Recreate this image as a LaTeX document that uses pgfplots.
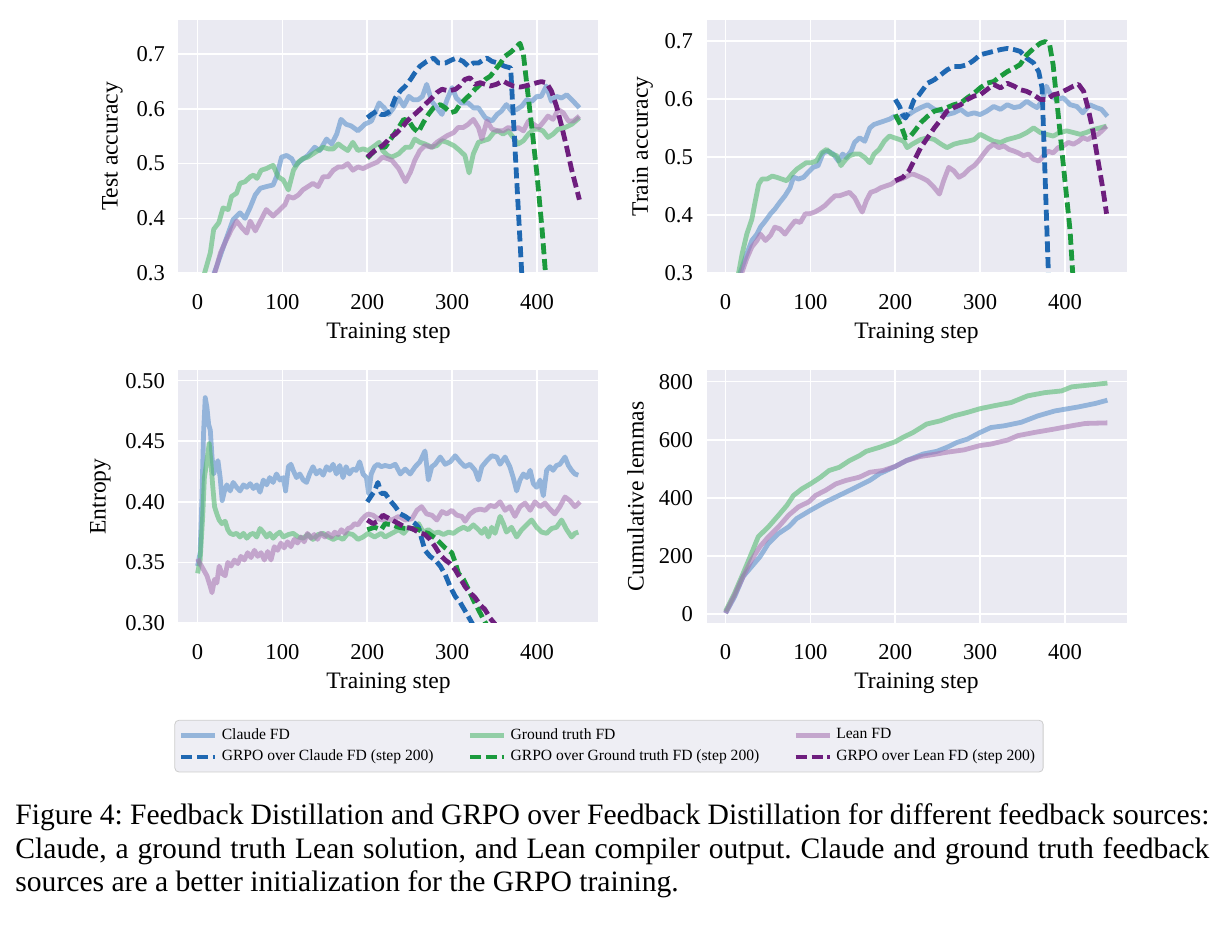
\documentclass[border=0pt]{standalone}
\usepackage{fontspec}
\setmainfont{Liberation Serif}
\usepackage{pgfplots}
\pgfplotsset{compat=1.18}

\definecolor{axbg}{HTML}{EAEAF2}
\definecolor{legbg}{HTML}{EEEEF4}
\definecolor{claudeL}{HTML}{5B90CA}
\definecolor{gtL}{HTML}{56BA72}
\definecolor{leanL}{HTML}{A977B4}
\definecolor{claudeD}{HTML}{1F68B2}
\definecolor{gtD}{HTML}{1B9A3D}
\definecolor{leanD}{HTML}{6E1E7E}

\pgfplotsset{
  panel/.style={
    scale only axis, width=210pt, height=126.5pt,
    axis background/.style={fill=axbg},
    axis line style={draw=none},
    grid=major, major grid style={white, line width=0.8pt},
    major tick length=0pt,
    xmin=-22.5, xmax=472.5,
    xtick={0,100,200,300,400},
    tick label style={font=\fontsize{11.3}{13}\selectfont},
    label style={font=\fontsize{11.8}{14}\selectfont},
    /pgf/number format/assume math mode=true,
    xlabel={Training step},
    xlabel style={at={(axis description cs:0.5,-0.237)}, anchor=center},
    xticklabel style={yshift=-7pt},
    yticklabel style={xshift=-3.3pt},
    every axis plot/.append style={line join=round},
  },
  fd/.style={line width=2.4pt, opacity=0.6},
  grpo/.style={line width=2.4pt, dash pattern=on 5.5pt off 2.4pt},
}

\begin{document}
\begin{tikzpicture}
\useasboundingbox (0,0) rectangle (611.5pt,464pt);

% ---------------- Test accuracy ----------------
\begin{axis}[panel, at={(89.25pt,327.5pt)}, anchor=south west,
  ymin=0.3, ymax=0.7627, ytick={0.3,0.4,0.5,0.6,0.7},
  yticklabel style={/pgf/number format/.cd, fixed, precision=1},
  ylabel={Test accuracy},
  ylabel style={at={(axis description cs:-0.157,0.5)}, anchor=center}]
\addplot[fd, claudeL] coordinates {(10,0.26) (22,0.31) (32,0.355) (42,0.398) (50,0.41) (56,0.40) (62,0.42) (68,0.443) (74,0.455) (81,0.458) (89,0.461) (93,0.476) (99,0.512) (105,0.515) (111,0.509) (115,0.497) (122,0.506) (130,0.515) (138,0.53) (144,0.524) (152,0.545) (158,0.536) (164,0.554) (169,0.581) (175,0.572) (181,0.569) (189,0.56) (197,0.572) (205,0.578) (214,0.611) (220,0.602) (225,0.59) (231,0.602) (237,0.62) (243,0.605) (249,0.623) (254,0.617) (260,0.617) (265,0.623) (270,0.645) (276,0.614) (282,0.602) (288,0.59) (294,0.617) (300,0.639) (305,0.62) (311,0.611) (319,0.611) (325,0.602) (331,0.602) (339,0.584) (347,0.578) (353,0.59) (358,0.596) (364,0.608) (370,0.596) (376,0.599) (382,0.605) (388,0.617) (394,0.614) (400,0.623) (405,0.623) (411,0.642) (417,0.614) (423,0.623) (429,0.62) (435,0.626) (441,0.617) (450,0.602)};
\addplot[fd, gtL] coordinates {(0,0.255) (9,0.304) (15,0.337) (19,0.38) (25,0.392) (30,0.419) (36,0.416) (40,0.44) (46,0.446) (50,0.464) (56,0.467) (62,0.476) (66,0.479) (70,0.473) (75,0.488) (81,0.491) (89,0.497) (95,0.476) (101,0.47) (107,0.452) (113,0.488) (119,0.503) (124,0.509) (130,0.512) (136,0.518) (142,0.524) (148,0.53) (154,0.527) (160,0.527) (166,0.536) (171,0.53) (177,0.524) (183,0.539) (189,0.524) (195,0.527) (201,0.524) (209,0.533) (214,0.539) (218,0.524) (224,0.515) (229,0.512) (237,0.518) (245,0.53) (251,0.53) (256,0.545) (262,0.539) (268,0.536) (276,0.53) (282,0.533) (288,0.542) (294,0.539) (302,0.533) (309,0.524) (315,0.515) (320,0.483) (325,0.518) (331,0.539) (337,0.542) (343,0.545) (349,0.557) (354,0.56) (360,0.554) (366,0.56) (372,0.548) (378,0.536) (384,0.542) (390,0.554) (396,0.563) (402,0.563) (407,0.56) (413,0.548) (419,0.554) (425,0.563) (433,0.566) (441,0.572) (450,0.584)};
\addplot[fd, leanL] coordinates {(10,0.25) (21,0.304) (27,0.337) (34,0.361) (40,0.38) (46,0.395) (52,0.383) (58,0.373) (62,0.395) (68,0.377) (74,0.395) (81,0.416) (89,0.404) (95,0.413) (103,0.425) (107,0.44) (113,0.437) (119,0.443) (124,0.452) (130,0.458) (136,0.464) (142,0.458) (148,0.476) (154,0.476) (160,0.488) (166,0.494) (171,0.494) (177,0.5) (183,0.488) (189,0.494) (195,0.491) (203,0.497) (212,0.503) (218,0.512) (224,0.509) (229,0.506) (237,0.491) (245,0.467) (251,0.485) (256,0.506) (262,0.524) (268,0.533) (276,0.53) (282,0.539) (288,0.545) (294,0.551) (302,0.557) (307,0.566) (313,0.566) (319,0.572) (325,0.581) (331,0.566) (335,0.545) (341,0.578) (347,0.563) (354,0.56) (360,0.56) (366,0.566) (372,0.563) (378,0.566) (384,0.56) (390,0.578) (396,0.572) (402,0.566) (407,0.575) (413,0.587) (419,0.581) (425,0.599) (431,0.593) (437,0.578) (443,0.578) (450,0.587)};
\addplot[grpo, claudeD] coordinates {(200,0.584) (205,0.59) (211,0.596) (216,0.59) (221,0.59) (227,0.596) (233,0.62) (239,0.633) (245,0.642) (251,0.654) (256,0.666) (262,0.678) (270,0.687) (278,0.693) (284,0.684) (292,0.684) (300,0.69) (305,0.693) (313,0.687) (319,0.678) (325,0.684) (331,0.684) (337,0.69) (341,0.693) (347,0.687) (354,0.684) (362,0.678) (369,0.675) (390,0.07)};
\addplot[grpo, gtD] coordinates {(200,0.51) (205,0.518) (210,0.525) (215,0.53) (221,0.53) (229,0.548) (237,0.566) (243,0.581) (249,0.578) (254,0.566) (260,0.557) (266,0.575) (272,0.59) (278,0.602) (286,0.608) (292,0.602) (298,0.593) (304,0.596) (309,0.608) (315,0.617) (321,0.626) (327,0.636) (333,0.645) (339,0.654) (345,0.66) (351,0.672) (357,0.684) (362,0.696) (370,0.705) (376,0.714) (380,0.72) (384,0.70) (388,0.645) (394,0.565) (400,0.48) (406,0.38) (410,0.30) (420,0.12)};
\addplot[grpo, leanD] coordinates {(200,0.512) (209,0.524) (218,0.533) (224,0.542) (227,0.548) (233,0.554) (241,0.566) (247,0.578) (253,0.587) (258,0.593) (264,0.602) (270,0.611) (276,0.62) (282,0.63) (288,0.636) (296,0.633) (304,0.636) (309,0.642) (315,0.654) (321,0.657) (327,0.645) (333,0.648) (339,0.645) (345,0.642) (352,0.645) (360,0.651) (366,0.646) (372,0.642) (380,0.64) (386,0.642) (393,0.645) (400,0.648) (405,0.65) (411,0.648) (417,0.633) (423,0.605) (429,0.569) (435,0.53) (441,0.488) (450,0.434)};
\end{axis}

% ---------------- Train accuracy ----------------
\begin{axis}[panel, at={(353.25pt,327.5pt)}, anchor=south west,
  ymin=0.3, ymax=0.736, ytick={0.3,0.4,0.5,0.6,0.7},
  yticklabel style={/pgf/number format/.cd, fixed, precision=1},
  ylabel={Train accuracy},
  ylabel style={at={(axis description cs:-0.152,0.5)}, anchor=center}]
\addplot[fd, claudeL] coordinates {(10,0.26) (17.5,0.302) (25,0.333) (31,0.356) (37,0.367) (41,0.379) (47,0.39) (53,0.402) (58,0.41) (64,0.422) (70,0.433) (76,0.447) (80,0.465) (86,0.462) (92,0.465) (97,0.473) (103,0.482) (109,0.485) (115,0.507) (121,0.51) (127,0.505) (133,0.493) (138,0.505) (142,0.499) (148,0.51) (152,0.525) (158,0.533) (164,0.527) (170,0.55) (175,0.556) (181,0.559) (187,0.562) (193,0.565) (199,0.57) (205,0.567) (210,0.573) (216,0.573) (222,0.579) (230,0.585) (238,0.59) (246,0.582) (254,0.579) (261,0.573) (269,0.576) (277,0.582) (285,0.573) (293,0.576) (300,0.573) (308,0.579) (316,0.587) (324,0.582) (332,0.59) (340,0.585) (347,0.587) (355,0.596) (361,0.59) (367,0.585) (373,0.596) (378,0.622) (384,0.605) (390,0.599) (398,0.602) (406,0.59) (414,0.587) (421,0.576) (429,0.59) (437,0.585) (443,0.582) (450,0.57)};
\addplot[fd, gtL] coordinates {(5,0.24) (15.6,0.302) (19.5,0.333) (25,0.367) (31,0.393) (35,0.424) (39,0.453) (43,0.462) (49,0.462) (55,0.467) (60,0.465) (66,0.462) (72,0.459) (78,0.47) (84,0.479) (90,0.485) (95,0.49) (101,0.49) (107,0.493) (113,0.507) (119,0.513) (125,0.505) (131,0.502) (136,0.485) (140,0.493) (146,0.502) (152,0.505) (158,0.505) (164,0.499) (170,0.49) (175,0.505) (181,0.513) (187,0.527) (193,0.536) (199,0.533) (205,0.53) (210,0.527) (214,0.516) (220,0.522) (226,0.527) (230,0.53) (238,0.533) (246,0.53) (254,0.522) (261,0.516) (269,0.522) (277,0.525) (285,0.527) (293,0.53) (300,0.539) (308,0.533) (316,0.527) (324,0.525) (332,0.53) (340,0.533) (347,0.536) (355,0.542) (363,0.55) (371,0.542) (378,0.539) (386,0.536) (394,0.542) (402,0.545) (410,0.542) (418,0.539) (425,0.542) (433,0.547) (441,0.55) (449,0.553)};
\addplot[fd, leanL] coordinates {(10,0.25) (19.5,0.302) (25,0.325) (31,0.345) (37,0.356) (41,0.367) (47,0.356) (53,0.365) (58,0.379) (64,0.376) (70,0.367) (76,0.379) (82,0.39) (88,0.387) (94,0.402) (99,0.402) (105,0.405) (111,0.41) (117,0.416) (123,0.425) (129,0.433) (134,0.433) (140,0.436) (146,0.439) (152,0.43) (158,0.413) (161,0.405) (166,0.425) (171,0.439) (177,0.442) (183,0.447) (189,0.45) (195,0.453) (201,0.459) (207,0.462) (212,0.465) (218,0.47) (222,0.47) (230,0.465) (238,0.459) (246,0.447) (252,0.436) (257,0.459) (263,0.482) (269,0.476) (275,0.465) (281,0.47) (287,0.479) (293,0.485) (298,0.493) (304,0.505) (310,0.516) (316,0.522) (322,0.516) (328,0.519) (334,0.513) (340,0.51) (345,0.507) (351,0.502) (357,0.505) (363,0.496) (369,0.493) (375,0.502) (380,0.51) (386,0.507) (392,0.516) (398,0.519) (404,0.525) (410,0.522) (416,0.527) (421,0.533) (427,0.53) (433,0.536) (439,0.539) (445,0.547) (449,0.553)};
\addplot[grpo, claudeD] coordinates {(200,0.599) (205,0.587) (209,0.572) (212,0.567) (217,0.579) (222,0.598) (228,0.607) (232,0.615) (238,0.627) (246,0.633) (254,0.642) (261,0.65) (269,0.656) (277,0.656) (285,0.659) (293,0.667) (300,0.676) (308,0.679) (316,0.682) (324,0.685) (332,0.687) (340,0.685) (347,0.682) (355,0.67) (363,0.662) (369,0.647) (373,0.619) (390,-0.11)};
\addplot[grpo, gtD] coordinates {(200,0.573) (207,0.553) (212,0.533) (218,0.536) (224,0.547) (230,0.559) (238,0.57) (246,0.579) (254,0.582) (261,0.585) (269,0.59) (277,0.593) (285,0.602) (293,0.61) (300,0.619) (308,0.627) (316,0.63) (324,0.639) (332,0.647) (340,0.653) (347,0.659) (355,0.676) (363,0.687) (371,0.696) (377,0.699) (382,0.693) (386,0.659) (390,0.602) (394,0.545) (398,0.487) (402,0.43) (406,0.373) (409,0.302) (420,0.135)};
\addplot[grpo, leanD] coordinates {(200,0.459) (209,0.465) (216,0.476) (222,0.493) (230,0.516) (238,0.533) (246,0.55) (254,0.565) (261,0.579) (269,0.585) (277,0.59) (285,0.599) (293,0.605) (300,0.607) (308,0.616) (316,0.625) (324,0.619) (332,0.627) (340,0.622) (347,0.616) (355,0.613) (363,0.607) (371,0.599) (379,0.599) (386,0.607) (394,0.61) (402,0.616) (410,0.622) (416,0.625) (422,0.613) (427,0.585) (433,0.545) (439,0.493) (445,0.442) (449,0.402)};
\end{axis}

% ---------------- Entropy ----------------
\begin{axis}[panel, at={(89.25pt,152.5pt)}, anchor=south west,
  ymin=0.3, ymax=0.5088, ytick={0.30,0.35,0.40,0.45,0.50},
  yticklabel style={/pgf/number format/.cd, fixed, fixed zerofill, precision=2},
  ylabel={Entropy},
  ylabel style={at={(axis description cs:-0.186,0.5)}, anchor=center},
  legend columns=3, legend cell align=left,
  legend style={at={(axis description cs:1.025,-0.383)}, anchor=north,
    font=\fontsize{7.8}{9}\selectfont, draw=black!20, fill=legbg,
    rounded corners=2pt, inner sep=2pt,
    /tikz/every even column/.append style={column sep=15pt},
    /tikz/column 6/.append style={column sep=0pt},
    /tikz/row sep=0pt}]
\addplot[fd, claudeL, forget plot] coordinates {(0,0.347) (3,0.358) (5,0.40) (7,0.456) (9,0.486) (11,0.478) (13,0.464) (15,0.459) (17,0.437) (19,0.423) (21.5,0.429) (24,0.434) (26.6,0.42) (29,0.401) (31.7,0.409) (34.4,0.414) (38.4,0.409) (42,0.416) (46,0.412) (50,0.409) (54,0.414) (58,0.412) (62,0.415) (65.8,0.411) (69.7,0.414) (73.6,0.408) (77.5,0.418) (81.4,0.414) (85,0.42) (89,0.416) (93,0.423) (97,0.418) (101,0.42) (103.7,0.409) (107,0.429) (110,0.431) (112.7,0.426) (116.6,0.42) (120.5,0.423) (124.5,0.418) (128.4,0.416) (132,0.423) (136,0.429) (140,0.423) (144,0.426) (148,0.422) (152,0.429) (155.8,0.426) (159.7,0.431) (163.6,0.423) (167.5,0.43) (171.4,0.42) (175,0.429) (179,0.423) (183,0.427) (187,0.426) (191,0.433) (195,0.423) (199,0.42) (201.6,0.407) (204.7,0.423) (208.6,0.429) (212.5,0.431) (216.4,0.429) (221,0.43) (227,0.429) (233,0.431) (239,0.423) (244.7,0.427) (250.6,0.423) (256.5,0.429) (262,0.433) (268,0.442) (272,0.418) (276,0.429) (280,0.431) (286,0.437) (291.8,0.431) (297.7,0.433) (303.6,0.438) (309.4,0.433) (315,0.429) (321,0.431) (327,0.426) (331,0.418) (335,0.429) (341,0.434) (346.7,0.438) (352.6,0.437) (356.5,0.431) (362.4,0.437) (368,0.429) (372,0.42) (376,0.409) (380,0.418) (384,0.423) (388,0.42) (392,0.426) (395.7,0.415) (399.6,0.412) (403.6,0.418) (407.5,0.405) (411.4,0.426) (415.3,0.429) (419,0.426) (423,0.43) (427,0.431) (433,0.437) (437,0.43) (440.8,0.426) (444.7,0.423) (448.7,0.422)};
\addplot[fd, gtL, forget plot] coordinates {(0,0.341) (3,0.352) (6,0.388) (8,0.42) (11,0.434) (13.7,0.448) (15.6,0.434) (17.6,0.415) (20,0.396) (22.7,0.39) (25.4,0.385) (28.6,0.382) (32.5,0.384) (35.6,0.377) (38.4,0.374) (42,0.373) (46,0.374) (50,0.371) (54,0.374) (58,0.37) (62,0.373) (65.8,0.374) (69.7,0.371) (73.6,0.378) (77.5,0.375) (81.4,0.371) (85,0.374) (89,0.37) (93,0.373) (97,0.375) (101,0.371) (107,0.373) (112.7,0.374) (118.6,0.371) (124.5,0.37) (130,0.373) (136,0.369) (142,0.373) (148,0.374) (154,0.371) (160,0.369) (165.6,0.371) (171.4,0.369) (177,0.374) (183,0.373) (189,0.369) (195,0.371) (201,0.374) (208.6,0.371) (216.4,0.374) (221,0.371) (229,0.374) (237,0.377) (243,0.374) (248.7,0.379) (254.5,0.377) (260.4,0.382) (266,0.375) (272,0.377) (278,0.374) (284,0.375) (289.8,0.373) (295.7,0.375) (301.6,0.374) (307.5,0.377) (313.4,0.379) (319,0.377) (325,0.381) (331,0.377) (335,0.374) (338.8,0.378) (342.8,0.371) (346.7,0.379) (350.6,0.374) (356.5,0.388) (360.4,0.382) (364,0.375) (370,0.379) (376,0.371) (382,0.377) (387.8,0.381) (393.7,0.385) (399.6,0.379) (405.5,0.375) (411.4,0.374) (417.3,0.378) (423,0.379) (429,0.385) (435,0.377) (440.8,0.371) (444.7,0.374) (448.7,0.375)};
\addplot[fd, leanL, forget plot] coordinates {(0,0.353) (3,0.349) (7,0.344) (11,0.339) (15,0.33) (17,0.325) (20,0.336) (22.7,0.333) (25.4,0.347) (28.6,0.341) (32.5,0.339) (35.6,0.35) (39.5,0.347) (43.4,0.352) (47.4,0.349) (51,0.355) (55,0.352) (59,0.358) (63,0.354) (67,0.36) (70.8,0.355) (74.7,0.358) (78.7,0.352) (82.6,0.359) (86.5,0.352) (90.4,0.363) (94.3,0.36) (98.2,0.366) (102,0.362) (106,0.367) (110,0.363) (113.9,0.369) (117.8,0.366) (121.7,0.371) (125.6,0.367) (129.5,0.374) (133.5,0.37) (137.4,0.373) (141.3,0.369) (145.2,0.374) (150,0.371) (153.8,0.374) (157.7,0.371) (161.6,0.375) (165.6,0.373) (169.5,0.377) (173.4,0.374) (177.3,0.378) (181.2,0.379) (185,0.382) (189,0.381) (193,0.385) (197,0.388) (201,0.39) (206.7,0.389) (212.5,0.386) (218.4,0.385) (224,0.386) (229,0.385) (237,0.388) (244.7,0.385) (252.6,0.386) (258.5,0.393) (264,0.396) (270,0.39) (276,0.389) (282,0.385) (288,0.392) (293.7,0.39) (299.6,0.393) (305.5,0.389) (311.4,0.388) (315.3,0.384) (321,0.39) (327,0.393) (333,0.394) (338.8,0.393) (344.7,0.397) (350.6,0.396) (356.5,0.4) (362.4,0.393) (368,0.396) (374,0.388) (380,0.396) (386,0.399) (392,0.393) (397.6,0.4) (403.5,0.396) (409.4,0.399) (415.3,0.394) (421,0.39) (427,0.396) (433,0.404) (438.8,0.401) (444.7,0.396) (450.6,0.4)};
\addplot[grpo, claudeD, forget plot] coordinates {(200,0.4) (204.7,0.405) (208.6,0.409) (212.5,0.416) (216.4,0.407) (221,0.407) (227,0.401) (233,0.396) (239,0.39) (244.7,0.388) (250.6,0.385) (256.5,0.382) (260.4,0.379) (264.3,0.369) (268,0.36) (274,0.355) (280,0.352) (286,0.347) (291.8,0.34) (297.7,0.33) (303.6,0.322) (309.4,0.317) (315.3,0.31) (321,0.303) (325,0.298) (335,0.285)};
\addplot[grpo, gtD, forget plot] coordinates {(200,0.377) (208.6,0.379) (216.4,0.377) (221,0.382) (229,0.381) (237,0.379) (244.7,0.378) (252.6,0.378) (260.4,0.377) (266,0.375) (272,0.374) (280,0.37) (286,0.366) (291.8,0.362) (299.6,0.358) (303.6,0.35) (307.5,0.341) (313.4,0.336) (319,0.328) (325,0.319) (331,0.311) (337,0.303) (341,0.298) (350,0.287)};
\addplot[grpo, leanD, forget plot] coordinates {(200,0.385) (206.6,0.382) (212.5,0.384) (218.4,0.389) (221,0.388) (229,0.385) (237,0.382) (244.7,0.379) (252.6,0.378) (260.4,0.375) (268,0.373) (274,0.369) (280,0.363) (286,0.356) (291.8,0.352) (297.7,0.349) (303.6,0.344) (309.4,0.337) (315.3,0.33) (321,0.325) (327,0.321) (333,0.315) (338.8,0.311) (344.7,0.304) (350.6,0.299) (360,0.29)};
% legend entries, filled row by row
\addlegendimage{fd, claudeL}
\addlegendentry{Claude FD}
\addlegendimage{fd, gtL}
\addlegendentry{Ground truth FD}
\addlegendimage{fd, leanL}
\addlegendentry{Lean FD}
\addlegendimage{grpo, claudeD}
\addlegendentry{GRPO over Claude FD (step 200)}
\addlegendimage{grpo, gtD}
\addlegendentry{GRPO over Ground truth FD (step 200)}
\addlegendimage{grpo, leanD}
\addlegendentry{GRPO over Lean FD (step 200)}
\end{axis}

% ---------------- Cumulative lemmas ----------------
\begin{axis}[panel, at={(353.25pt,152.5pt)}, anchor=south west,
  ymin=-31, ymax=840, ytick={0,200,400,600,800},
  ylabel={Cumulative lemmas},
  ylabel style={at={(axis description cs:-0.169,0.5)}, anchor=center}]
\addplot[fd, claudeL] coordinates {(0,3) (10.7,60) (20.7,129) (30.6,163) (40.5,197) (50.5,243) (62.4,277) (74.3,300) (84,329) (100,357) (118,386) (138,414) (150,431) (170,460) (181.6,483) (200,508) (213,528) (233,551) (249,560) (261,574) (273,591) (285,602) (300,625) (312.7,642) (328.6,648) (348.4,660) (368,682) (388,699) (400,705) (416,713) (436,725) (450,736)};
\addplot[fd, gtL] coordinates {(0,9) (10.7,72) (20.7,140) (30.6,209) (38.5,266) (50.5,300) (62.4,340) (72.3,374) (80,408) (90,431) (100,448) (112,471) (122,494) (134,505) (146,528) (157.7,545) (165.7,560) (181.6,574) (200,593) (209,608) (221,625) (237,654) (253,665) (269,682) (285,694) (300,707) (316.6,717) (336.5,728) (356,751) (376,762) (396,768) (408,782) (428,788) (450,795)};
\addplot[fd, leanL] coordinates {(0,3) (10.7,66) (20.7,129) (30.6,186) (40.5,232) (50.5,266) (62.4,300) (74.3,340) (86,369) (98,386) (106,408) (118,426) (130,448) (142,460) (157.7,471) (170,488) (185.5,494) (200,508) (213,528) (229,542) (245,549) (261,557) (281,565) (300,580) (312.7,585) (332.5,599) (344.5,614) (364,625) (388,637) (408,648) (424,656) (450,658)};
\end{axis}

% ---------------- Caption ----------------
\node[anchor=base west, inner sep=0pt, text width=597pt, align=justify,
      font=\fontsize{14.8}{16.75}\selectfont] at (7.5pt,51.5pt)
  {\frenchspacing Figure 4: Feedback Distillation and GRPO over Feedback Distillation for different feedback sources:\linebreak
   Claude, a ground truth Lean solution, and Lean compiler output. Claude and ground truth feedback\linebreak
   sources are a better initialization for the GRPO training.};
\end{tikzpicture}
\end{document}
